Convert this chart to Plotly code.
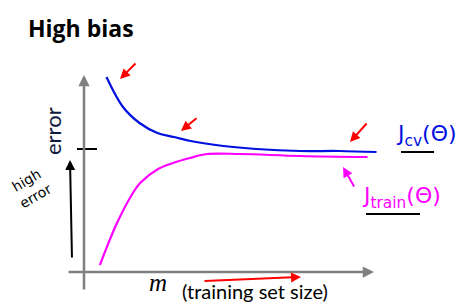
import plotly.graph_objects as go

# ---- data (conceptual units: m = training set size, error) ----
cv_m = [0.75, 1.3, 1.85, 2.45, 3.0, 3.55, 4.65, 5.75, 7.2, 8.5, 9.75]
cv_err = [9.75, 8.25, 7.45, 6.95, 6.75, 6.55, 6.3, 6.15, 6.05, 6.05, 6.0]
train_m = [0.53, 1.1, 1.63, 1.87, 2.47, 2.97, 3.53, 4.1, 5.2, 7.2, 9.45]
train_err = [0.35, 2.45, 3.95, 4.45, 5.15, 5.45, 5.7, 5.9, 5.9, 5.8, 5.75]

title_text = "High bias"
x_label = "(training set size)"
y_label = "error"

W, H = 464, 305
# axis scale: origin at pixel (84, 272); 30 px per m unit, 20 px per error unit
X0, Y0, SX, SY = 84, 272, 30.0, 20.0
xr = [(0 - X0) / SX, (W - X0) / SX]
yr = [(Y0 - H) / SY, (Y0 - 0) / SY]


def P(px, py):
    return (px - X0) / SX, (Y0 - py) / SY


fig = go.Figure()
fig.add_trace(go.Scatter(x=cv_m, y=cv_err, mode="lines", line=dict(color="#0010e0", width=2.2, shape="spline"),
                         hoverinfo="skip", showlegend=False))
fig.add_trace(go.Scatter(x=train_m, y=train_err, mode="lines", line=dict(color="#ff00ff", width=2.2, shape="spline"),
                         hoverinfo="skip", showlegend=False))

ann = []
shapes = []


def arrow(tail, tip, color, width=2, head=2, size=1.0):
    tx, ty = P(*tip)
    ax, ay = P(*tail)
    ann.append(dict(x=tx, y=ty, ax=ax, ay=ay, xref="x", yref="y", axref="x", ayref="y",
                    showarrow=True, arrowhead=head, arrowsize=size, arrowwidth=width,
                    arrowcolor=color, text="", standoff=0, startstandoff=0))


def line(p1, p2, color, width=2):
    x1, y1 = P(*p1)
    x2, y2 = P(*p2)
    shapes.append(dict(type="line", x0=x1, y0=y1, x1=x2, y1=y2, xref="x", yref="y",
                       line=dict(color=color, width=width)))


def text(t, pos, size, color="black", family="Lato", angle=0):
    x, y = P(*pos)
    ann.append(dict(x=x, y=y, xref="x", yref="y", text=t, showarrow=False, textangle=angle,
                    font=dict(size=size, color=color, family=family)))


# axes
arrow((84, 291), (84, 75), "#808080", width=2.5, head=2, size=0.9)
arrow((67, 272), (374, 272), "#808080", width=2.5, head=2, size=0.9)
# tick
line((77, 149), (97, 149), "black", 2)

# red arrows
arrow((137, 62), (120, 79), "red", 2, 2, 1.0)
arrow((198, 117), (181, 131), "red", 2, 2, 1.0)
arrow((368, 122), (350, 142), "red", 2, 2, 1.0)
arrow((203, 281), (301, 277), "red", 2, 2, 1.0)
# magenta arrow
arrow((355, 188), (343, 167), "#ff00ff", 2, 2, 1.0)
# black arrow (high error)
arrow((72, 259), (70, 160), "black", 2, 2, 1.0)

# underlines
line((401, 152), (434, 152), "black", 2)
line((366, 214), (420, 214), "black", 2)

# texts
text("<b>" + title_text + "</b>", (81, 28), 23, "black", "Open Sans")
text("<i>m</i>", (158, 282), 25, "black", "Liberation Serif")
text(x_label, (255, 291), 20, "black", "Lato")
text(y_label, (52, 131), 22, "#101840", "Lato", angle=-90)
text("J<sub>cv</sub>(Θ)", (426, 135), 22, "#0010e0", "DejaVu Sans")
text("J<sub>train</sub>(Θ)", (401, 197), 22, "#ff00ff", "DejaVu Sans")
text("high<br>error", (31, 188), 14, "black", "DejaVu Sans", angle=-30)

fig.update_layout(
    width=W, height=H, autosize=False,
    margin=dict(l=0, r=0, t=0, b=0),
    paper_bgcolor="white", plot_bgcolor="white",
    xaxis=dict(range=xr, visible=False, fixedrange=True),
    yaxis=dict(range=yr, visible=False, fixedrange=True),
    annotations=ann, shapes=shapes,
)
fig.write_html("out.html")
